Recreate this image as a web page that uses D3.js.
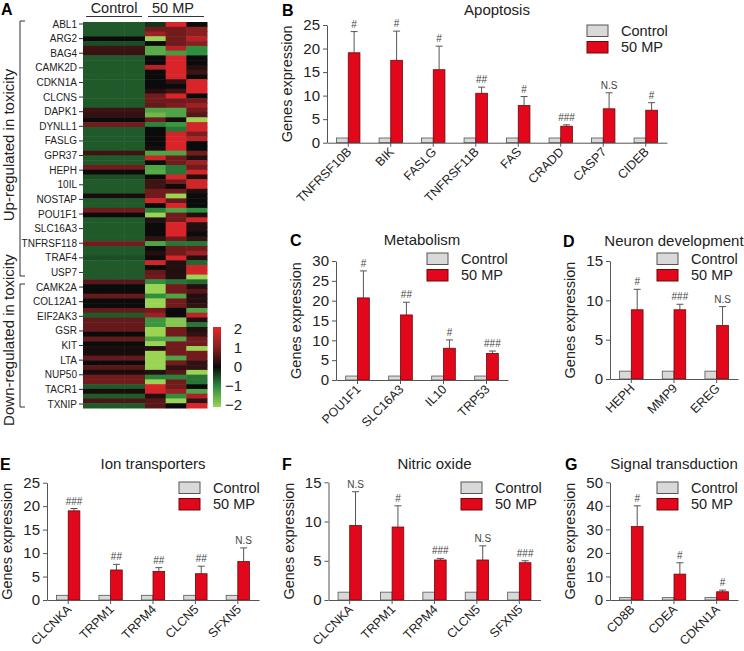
<!DOCTYPE html>
<html>
<head>
<meta charset="utf-8">
<script src="https://cdn.jsdelivr.net/npm/d3@7"></script>
<style>
  body { margin: 0; background: #fff; }
  svg { display: block; font-family: "Liberation Sans", Arial, sans-serif; }
</style>
</head>
<body>
<svg id="fig" width="744" height="651"></svg>
<script>
// ---- heatmap data (panel A) ----
const heatGenes = ["ABL1","ARG2","BAG4","CAMK2D","CDKN1A","CLCNS","DAPK1","DYNLL1","FASLG","GPR37",
  "HEPH","10IL","NOSTAP","POU1F1","SLC16A3","TNFRSF118","TRAF4","USP7",
  "CAMK2A","COL12A1","EIF2AK3","GSR","KIT","LTA","NUP50","TACR1","TXNIP"];
const heatControl = [-0.6,-0.6,-0.6,0,-0.5,0.4,0.35,-0.6,-0.6,-0.6,
  -0.6,-0.6,-0.6,-0.6,-0.6,-0.6,-0.6,-0.6,0.4,0.3,
  0,0.8,-0.6,-0.6,-0.6,-0.6,-0.6,0.4,-0.6,-0.6,
  0.8,0,-0.5,-0.6,-0.6,-0.6,0.1,-0.6,-0.6,0.8,
  0,-0.6,-0.6,-0.6,-0.6,-0.6,0.8,-0.6,-0.6,-0.5,
  -0.6,-0.6,-0.6,-0.6,0.6,0,0,0.7,0,0,
  0.7,-0.6,0.7,0.7,0.7,0,0.7,0,0.1,0.1,
  0.7,0,0.6,0.1,0.8,0.8,-0.6,0.1,-0.6,0.5,-0.6];
const heatMP1 = [-0.3,0.8,1.2,-2,0,-1.4,-1.4,0,0,1.5,
  0,0,0,0,0.2,0.8,0.8,0.7,-1.3,-1.6,
  0.8,-0.9,0,0,0,0,0.1,-1.3,1.8,0,
  -1.3,-1.4,0,0.4,0.4,0.8,0.8,1.9,0,-0.9,
  -2,0.2,0,0,0,0.3,-1.3,0,0.2,0,
  1.8,0,0.7,0.8,-1.0,-2,-2,-1.0,-2,-2,
  0.8,1.2,-1.1,-1.1,-2,-2,-1.3,-2,0.2,-2,
  -2,-2,-2,0.2,-0.9,-2,1.9,1.8,0.2,0.6,0.6];
const heatMP2 = [1.9,0.8,0.8,0.8,0.8,1.5,-1.2,1.9,1.9,1.9,
  1.9,1.9,0.3,0,0.4,1.9,0.8,0.9,-1.3,-1.3,
  0.1,-1.1,-0.8,1.8,1.9,1.9,1.9,-1.3,0.8,0.8,
  -0.8,-0.8,1.9,0.8,0,0.8,-2,0.7,1.9,-1.3,
  0.8,0.8,1.9,1.9,1.9,0.8,-0.8,0.8,0.8,1.9,
  0.2,0.2,0.2,0.2,-0.8,0.8,0.8,-1.3,0.8,0.8,
  0,0,-1.8,-1.8,0.8,0.8,-1.3,0.8,0.8,0.8,
  -1.3,0.8,0.3,0.6,-0.9,0.8,0.8,1.2,-1.0,-2,0];
const heatMP3 = [0,1.0,1.0,1.5,1.0,-1.0,-1.0,0,0,0.2,
  0.4,0,1.9,1.9,1.9,0,0.8,1.2,0.8,0.6,
  -2,1.8,1.8,0.9,1.5,0,0,0.8,0.2,1.2,
  0.8,1.8,0.2,1.8,1.8,0.2,0,0,0,-1.0,
  0.2,1.8,0.2,0.2,0,0.3,-0.8,0.8,1.2,0.2,
  -0.7,1.8,1.8,-2,-0.7,0.2,0.6,0.2,0.2,0.3,
  -1.3,1.6,0.2,-0.8,0.2,0.3,0.8,0.8,-2,0.8,
  0.8,0.3,0.3,-2,-0.8,-0.8,0,-1.3,1.4,0.3,1.9];
const colorbarTicks = [2, 1, 0, -1, -2];

// ---- bar panel data ----
const groups = ["Control", "50 MP"];

const apoptosisGenes = ["TNFRSF10B","BIK","FASLG","TNFRSF11B","FAS","CRADD","CASP7","CIDEB"];
const apoptosisControl = [1,1,1,1,1,1,1,1];
const apoptosisMP = [19.1,17.5,15.5,10.5,7.9,3.5,7.2,6.9];
const apoptosisSD = [4.5,6.2,5.0,1.3,1.9,0.3,3.4,1.6];
const apoptosisSig = ["#","#","#","##","#","###","N.S","#"];

const metabolismGenes = ["POU1F1","SLC16A3","IL10","TRP53"];
const metabolismControl = [1,1,1,1];
const metabolismMP = [20.7,16.4,8.0,6.7];
const metabolismSD = [6.8,3.2,2.1,0.6];
const metabolismSig = ["#","##","#","###"];

const neuronGenes = ["HEPH","MMP9","EREG"];
const neuronControl = [1,1,1];
const neuronMP = [8.8,8.8,6.8];
const neuronSD = [2.6,0.7,2.4];
const neuronSig = ["#","###","N.S"];

const ionGenes = ["CLCNKA","TRPM1","TRPM4","CLCN5","SFXN5"];
const ionControl = [1,1,1,1,1];
const ionMP = [19.0,6.4,6.1,5.6,8.2];
const ionSD = [0.5,1.2,0.8,1.6,2.9];
const ionSig = ["###","##","##","##","N.S"];

const nitricGenes = ["CLCNKA","TRPM1","TRPM4","CLCN5","SFXN5"];
const nitricControl = [1,1,1,1,1];
const nitricMP = [9.5,9.3,5.1,5.1,4.75];
const nitricSD = [4.3,2.7,0.2,1.8,0.25];
const nitricSig = ["N.S","#","###","N.S","###"];

const signalGenes = ["CD8B","CDEA","CDKN1A"];
const signalControl = [1,1,1];
const signalMP = [31.2,11.0,3.5];
const signalSD = [8.8,4.8,0.7];
const signalSig = ["#","#","#"];

const svg = d3.select("#fig");
const axisColor = "#555";
const ctrlFill = "#d9d9d9";
const mpFill = "#e2071b";

// ================= Panel A: heatmap =================
function drawHeatmap() {
  const g = svg.append("g");
  const cols = [heatControl, heatControl, heatControl, heatMP1, heatMP2, heatMP3];
  const nRows = heatControl.length;
  const x = d3.scaleBand().domain(d3.range(cols.length)).range([83, 207]);
  const y = d3.scaleBand().domain(d3.range(nRows)).range([22, 408]);
  const color = d3.scaleLinear()
    .domain([-2, -1, 0, 1, 2])
    .range(["#9bd455", "#2f8f3f", "#0b0b0b", "#8a1f22", "#e2262b"])
    .clamp(true);

  cols.forEach((vals, ci) => {
    g.append("g").selectAll("rect")
      .data(vals)
      .join("rect")
        .attr("x", x(ci))
        .attr("y", (_, i) => y(i))
        .attr("width", x.bandwidth() + 0.5)
        .attr("height", y.bandwidth() + 0.5)
        .attr("fill", d => color(d));
  });

  // gene labels
  const ly = d3.scalePoint().domain(heatGenes).range([24, 404]);
  const lab = g.append("g");
  lab.selectAll("text")
    .data(heatGenes)
    .join("text")
      .attr("x", 77)
      .attr("y", d => ly(d))
      .attr("dy", "0.35em")
      .attr("text-anchor", "end")
      .style("font-size", "10px")
      .attr("fill", "#222")
      .text(d => d);
  lab.selectAll("line")
    .data(heatGenes)
    .join("line")
      .attr("x1", 79).attr("x2", 83)
      .attr("y1", d => ly(d)).attr("y2", d => ly(d))
      .attr("stroke", "#333");

  // column headers
  [["Control", 114, 86, 142], ["50 MP", 173, 148, 204]].forEach(([t, cx, a, b]) => {
    g.append("text").attr("x", cx).attr("y", 13).attr("text-anchor", "middle")
      .style("font-size", "14.5px").attr("fill", "#222").text(t);
    g.append("line").attr("x1", a).attr("x2", b).attr("y1", 16.5).attr("y2", 16.5)
      .attr("stroke", "#333").attr("stroke-width", 1);
  });

  // brackets
  const brackets = [
    { y0: 21, y1: 276, text: "Up-regulated in toxicity", cy: 145 },
    { y0: 284, y1: 407, text: "Down-regulated in toxicity", cy: 340 }
  ];
  brackets.forEach(b => {
    g.append("path")
      .attr("d", `M25,${b.y0}H20V${b.y1}H25`)
      .attr("fill", "none").attr("stroke", "#333");
    g.append("text")
      .attr("transform", `translate(14,${b.cy}) rotate(-90)`)
      .attr("text-anchor", "middle")
      .style("font-size", "15px").attr("fill", "#222")
      .text(b.text);
  });

  // colour bar
  const defs = svg.append("defs");
  const grad = defs.append("linearGradient").attr("id", "cbar")
    .attr("x1", 0).attr("x2", 0).attr("y1", 0).attr("y2", 1);
  d3.range(-2, 2.01, 0.25).reverse().forEach(v => {
    grad.append("stop").attr("offset", (2 - v) / 4).attr("stop-color", color(v));
  });
  g.append("rect").attr("x", 213).attr("y", 327).attr("width", 8).attr("height", 80)
    .attr("fill", "url(#cbar)");
  const cy = d3.scaleLinear().domain([-2, 2]).range([405, 329]);
  g.append("g").selectAll("text")
    .data(colorbarTicks)
    .join("text")
      .attr("x", 242)
      .attr("y", d => cy(d))
      .attr("dy", "0.35em")
      .attr("text-anchor", "end")
      .style("font-size", "15px").attr("fill", "#222")
      .text(d => d < 0 ? "\u2212" + Math.abs(d) : d);

  svg.append("text").attr("x", 1).attr("y", 15)
    .style("font-size", "16px").style("font-weight", "bold").text("A");
}

// ================= bar panels =================
function drawPanel(p) {
  const g = svg.append("g");
  const x = d3.scaleBand().domain(p.genes).range([p.x0, p.x1]).paddingInner(0.45).paddingOuter(0.225);
  const sub = d3.scaleBand().domain(groups).range([0, x.bandwidth()]);
  const y = d3.scaleLinear().domain([0, p.yMax]).range([p.yBot, p.yTop]);

  const rows = p.genes.map((gene, i) => ({ gene, ctrl: p.ctrl[i], mp: p.mp[i], sd: p.sd[i], sig: p.sig[i] }));

  // bars
  g.append("g").selectAll("rect")
    .data(rows)
    .join("rect")
      .attr("x", d => x(d.gene) + sub("Control"))
      .attr("y", d => y(d.ctrl))
      .attr("width", sub.bandwidth())
      .attr("height", d => y(0) - y(d.ctrl))
      .attr("fill", ctrlFill).attr("stroke", "#555").attr("stroke-width", 0.8);

  // error bars (upper only)
  const eg = g.append("g").attr("stroke", "#555").attr("stroke-width", 1);
  rows.forEach(d => {
    const cx = x(d.gene) + sub("50 MP") + sub.bandwidth() / 2;
    eg.append("line").attr("x1", cx).attr("x2", cx).attr("y1", y(d.mp)).attr("y2", y(d.mp + d.sd));
    eg.append("line").attr("x1", cx - 3.5).attr("x2", cx + 3.5).attr("y1", y(d.mp + d.sd)).attr("y2", y(d.mp + d.sd));
  });

  g.append("g").selectAll("rect")
    .data(rows)
    .join("rect")
      .attr("x", d => x(d.gene) + sub("50 MP"))
      .attr("y", d => y(d.mp))
      .attr("width", sub.bandwidth())
      .attr("height", d => y(0) - y(d.mp))
      .attr("fill", mpFill).attr("stroke", "#6b0a0a").attr("stroke-width", 0.8);

  // significance marks
  g.append("g").selectAll("text")
    .data(rows)
    .join("text")
      .attr("x", d => x(d.gene) + sub("50 MP") + sub.bandwidth() / 2)
      .attr("y", d => y(d.mp + d.sd) - 4)
      .attr("text-anchor", "middle")
      .style("font-size", "10px")
      .attr("fill", "#444")
      .text(d => d.sig);

  // axes
  const yAxis = g.append("g")
    .attr("transform", `translate(${p.x0},0)`)
    .call(d3.axisLeft(y).tickValues(d3.range(0, p.yMax + 0.01, p.yStep)).tickSize(4).tickSizeOuter(0).tickPadding(3));
  yAxis.selectAll("text").style("font-size", "15px").attr("fill", "#222");

  const xAxis = g.append("g")
    .attr("transform", `translate(0,${p.yBot})`)
    .call(d3.axisBottom(x).tickSize(4).tickSizeOuter(0));
  xAxis.selectAll("text")
    .attr("x", null).attr("y", null).attr("dy", null)
    .attr("transform", "translate(4,10) rotate(-45)")
    .attr("text-anchor", "end")
    .style("font-size", "12.5px").attr("fill", "#222");

  [yAxis, xAxis].forEach(a => {
    a.selectAll(".domain, .tick line").attr("stroke", axisColor);
    a.attr("font-family", null);
  });

  // y label
  g.append("text")
    .attr("transform", `translate(${p.x0 - 35},${(p.yTop + p.yBot) / 2}) rotate(-90)`)
    .attr("text-anchor", "middle")
    .style("font-size", "14.5px").attr("fill", "#222")
    .text("Genes expression");

  // title + letter
  g.append("text").attr("x", (p.x0 + p.x1) / 2).attr("y", p.titleY)
    .attr("text-anchor", "middle").style("font-size", "15px").attr("fill", "#222").text(p.title);
  g.append("text").attr("x", p.letterX).attr("y", p.titleY + 1)
    .style("font-size", "16px").style("font-weight", "bold").text(p.letter);

  // legend
  const leg = g.append("g").attr("transform", `translate(${p.legX},${p.legY})`);
  groups.forEach((name, i) => {
    leg.append("rect").attr("x", 0).attr("y", i * 16.5).attr("width", 21).attr("height", 11.5)
      .attr("fill", i === 0 ? ctrlFill : mpFill).attr("stroke", i === 0 ? "#555" : "#6b0a0a");
    leg.append("text").attr("x", 34).attr("y", i * 16.5 + 5.75).attr("dy", "0.35em")
      .style("font-size", "14.5px").attr("fill", "#222").text(name);
  });
}

drawHeatmap();

const panels = [
  { letter: "B", title: "Apoptosis", genes: apoptosisGenes, ctrl: apoptosisControl, mp: apoptosisMP, sd: apoptosisSD, sig: apoptosisSig,
    yMax: 25, yStep: 5, x0: 327, x1: 667, yTop: 25, yBot: 142.7, titleY: 14.5, letterX: 282, legX: 587, legY: 25 },
  { letter: "C", title: "Metabolism", genes: metabolismGenes, ctrl: metabolismControl, mp: metabolismMP, sd: metabolismSD, sig: metabolismSig,
    yMax: 30, yStep: 5, x0: 336, x1: 508, yTop: 261, yBot: 380, titleY: 245, letterX: 290, legX: 427, legY: 253 },
  { letter: "D", title: "Neuron development", genes: neuronGenes, ctrl: neuronControl, mp: neuronMP, sd: neuronSD, sig: neuronSig,
    yMax: 15, yStep: 5, x0: 610, x1: 738, yTop: 261, yBot: 379, titleY: 246, letterX: 563, legX: 657, legY: 253 },
  { letter: "E", title: "Ion transporters", genes: ionGenes, ctrl: ionControl, mp: ionMP, sd: ionSD, sig: ionSig,
    yMax: 25, yStep: 5, x0: 47, x1: 259, yTop: 482.7, yBot: 600, titleY: 469, letterX: 0, legX: 179, legY: 482 },
  { letter: "F", title: "Nitric oxide", genes: nitricGenes, ctrl: nitricControl, mp: nitricMP, sd: nitricSD, sig: nitricSig,
    yMax: 15, yStep: 5, x0: 328.5, x1: 540.5, yTop: 482.3, yBot: 600, titleY: 469, letterX: 282, legX: 461, legY: 482 },
  { letter: "G", title: "Signal transduction", genes: signalGenes, ctrl: signalControl, mp: signalMP, sd: signalSD, sig: signalSig,
    yMax: 50, yStep: 10, x0: 610, x1: 738, yTop: 482.3, yBot: 600, titleY: 469, letterX: 565, legX: 657, legY: 482 }
];
panels.forEach(drawPanel);
</script>
</body>
</html>
